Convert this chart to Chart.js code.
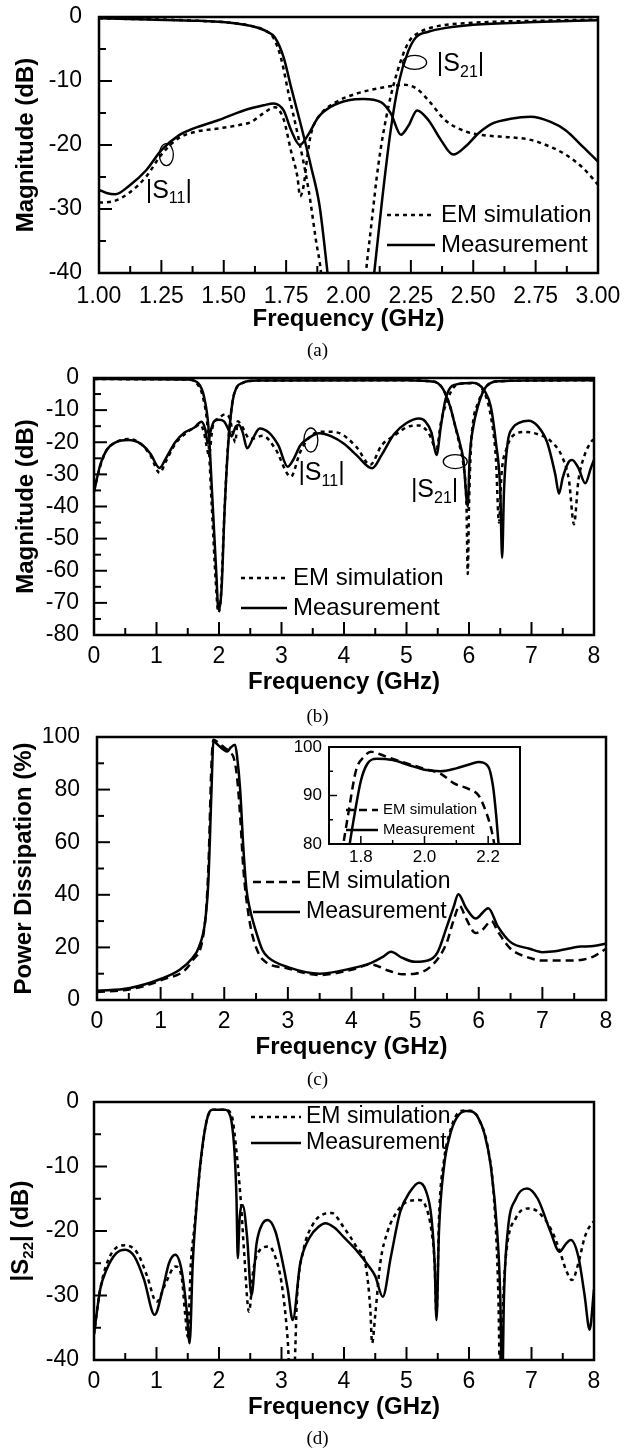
<!DOCTYPE html>
<html>
<head>
<meta charset="utf-8">
<script src="https://cdn.jsdelivr.net/npm/chart.js"></script>
<style>
  body { margin: 0; background: #fff; width: 635px; height: 1449px; position: relative; overflow: hidden; }
  canvas { position: absolute; }
  .cap { position: absolute; left: 0; width: 635px; text-align: center; color: #000;
         font: 19px "Liberation Serif", "Times New Roman", serif; line-height: 20px; }
</style>
</head>
<body>
<canvas id="chartA" width="635" height="340" style="left:0;top:0"></canvas>
<div class="cap" style="top:340px">(a)</div>
<canvas id="chartB" width="635" height="340" style="left:0;top:360px"></canvas>
<div class="cap" style="top:706px">(b)</div>
<canvas id="chartC" width="635" height="340" style="left:0;top:727px"></canvas>
<canvas id="inset" width="250" height="140" style="left:280px;top:735px"></canvas>
<div class="cap" style="top:1069px">(c)</div>
<canvas id="chartD" width="635" height="335" style="left:0;top:1090px"></canvas>
<div class="cap" style="top:1428px">(d)</div>

<script>
// ---- data ----

// (a) narrow band view, 1-3 GHz
const aXTicks = [1.00, 1.25, 1.50, 1.75, 2.00, 2.25, 2.50, 2.75, 3.00];
const aYTicks = [0, -10, -20, -30, -40];
const aS11MeasX = [1.00,1.03,1.065,1.12,1.19,1.25,1.32,1.38,1.48,1.58,1.66,1.70,1.74,1.77,1.805,1.84,1.88,1.93,2.00,2.06,2.13,2.17,2.21,2.24,2.275,2.32,2.37,2.42,2.47,2.52,2.58,2.65,2.73,2.81,2.87,2.94,3.00];
const aS11MeasY = [-27.0,-27.5,-27.7,-26.4,-23.9,-20.8,-18.5,-17.4,-16.1,-14.6,-13.8,-13.5,-14.6,-17.7,-20.0,-18.3,-15.6,-14.0,-13.0,-12.8,-13.3,-15.1,-18.4,-17.0,-14.6,-16.1,-19.2,-21.5,-20.2,-18.2,-16.6,-15.9,-15.6,-16.4,-17.7,-20.3,-22.6];
const aS11SimX = [1.00,1.057,1.12,1.19,1.25,1.316,1.38,1.48,1.56,1.61,1.657,1.705,1.74,1.77,1.795,1.806,1.82,1.835,1.85,1.884,1.95,2.03,2.127,2.225,2.273,2.32,2.387,2.47,2.55,2.65,2.73,2.81,2.87,2.94,3.00];
const aS11SimY = [-29.0,-28.8,-27.5,-24.9,-21.5,-19.0,-18.0,-17.4,-16.9,-16.4,-15.1,-14.1,-16.0,-21.0,-24.9,-28.0,-26.4,-21.8,-18.2,-15.4,-13.3,-12.0,-11.1,-10.6,-11.2,-13.0,-16.1,-17.9,-18.5,-18.8,-19.2,-20.3,-21.5,-23.6,-26.2];
const aS21MeasX = [1.00,1.20,1.40,1.55,1.62,1.67,1.705,1.74,1.77,1.81,1.85,1.884,1.916,1.93,2.09,2.103,2.135,2.168,2.20,2.24,2.27,2.32,2.39,2.50,2.75,3.00];
const aS21MeasY = [-0.2,-0.4,-0.6,-1.0,-1.5,-2.2,-3.2,-6.3,-11.0,-17.0,-23.4,-29.5,-40,-45,-45,-40,-28.5,-18.0,-10.5,-5.3,-3.2,-2.3,-1.7,-1.2,-0.8,-0.5];
const aS21SimX = [1.00,1.40,1.55,1.62,1.67,1.70,1.73,1.76,1.80,1.84,1.87,1.89,1.90,2.06,2.07,2.09,2.12,2.16,2.20,2.24,2.28,2.35,2.50,2.75,3.00];
const aS21SimY = [-0.2,-0.6,-1.0,-1.5,-2.2,-3.3,-6.5,-12,-19,-27,-35,-40,-45,-45,-40,-33,-23,-14,-8,-4,-2.5,-1.5,-0.9,-0.6,-0.4];

// (b) wide band view, 0-8 GHz
const bXTicks = [0, 1, 2, 3, 4, 5, 6, 7, 8];
const bYTicks = [0, -10, -20, -30, -40, -50, -60, -70, -80];
const bS21MeasX = [0,1.0,1.5,1.67,1.76,1.83,1.89,1.96,1.99,2.04,2.09,2.15,2.22,2.28,2.38,2.6,5.0,5.45,5.55,5.62,5.70,5.78,5.85,5.91,5.98,6.01,6.07,6.14,6.24,6.35,6.5,7.0,8.0];
const bS21MeasY = [-0.3,-0.4,-0.5,-1.7,-5.8,-15,-36,-62,-72,-66,-41,-20,-7,-3,-1.5,-0.8,-0.7,-1.2,-2.5,-4.8,-9,-15,-20,-25.5,-40,-25,-15,-9,-3.7,-1.5,-1,-0.8,-0.7];
const bS21SimX = [0,1.0,1.5,1.65,1.75,1.82,1.88,1.95,1.99,2.03,2.08,2.14,2.21,2.27,2.38,2.6,5.0,5.45,5.55,5.62,5.70,5.78,5.85,5.91,5.96,5.98,6.0,6.03,6.07,6.14,6.24,6.35,6.5,7.0,8.0];
const bS21SimY = [-0.3,-0.4,-0.5,-1.8,-6.5,-16,-38,-64,-73,-68,-45,-22,-8,-3.5,-1.5,-0.8,-0.7,-1.2,-2.5,-4.8,-9,-15,-21,-27,-40,-61,-40,-22,-13,-8,-3.5,-1.5,-1,-0.8,-0.7];
const bS11MeasX = [0,0.1,0.2,0.35,0.55,0.75,0.9,1.05,1.15,1.3,1.45,1.6,1.72,1.78,1.82,1.86,1.92,2.0,2.08,2.15,2.2,2.27,2.32,2.38,2.45,2.55,2.65,2.8,2.95,3.1,3.2,3.3,3.45,3.6,3.8,4.0,4.2,4.45,4.6,4.8,5.0,5.2,5.3,5.4,5.48,5.55,5.62,5.7,5.8,5.95,6.05,6.15,6.25,6.35,6.43,6.5,6.53,6.56,6.62,6.7,6.8,6.95,7.1,7.25,7.38,7.44,7.5,7.6,7.65,7.75,7.86,7.95,8.0];
const bS11MeasY = [-35.5,-27,-22.5,-20,-19.3,-20.5,-23.5,-28,-25,-20,-17,-15.5,-13.6,-16,-20.3,-17,-13.5,-13,-13.5,-16,-18.2,-15,-14.6,-17,-21.9,-18.5,-15.7,-17,-21,-27.6,-25,-21,-18.5,-17.2,-18.2,-20.5,-24,-28.1,-24,-17.5,-14,-12.6,-13.5,-17,-24,-15,-7,-3,-2,-1.6,-1.5,-2,-4,-9,-20,-35,-56,-35,-20,-15.5,-14,-13.3,-15,-20,-30,-36,-31,-26,-25.5,-28,-32.8,-28,-25.5];
const bS11SimX = [0,0.1,0.2,0.35,0.55,0.75,0.9,1.05,1.15,1.3,1.45,1.6,1.7,1.76,1.8,1.84,1.9,2.0,2.1,2.17,2.22,2.26,2.3,2.35,2.5,2.7,2.9,3.15,3.3,3.5,3.7,3.9,4.2,4.42,4.6,4.8,5.05,5.2,5.35,5.48,5.55,5.6,5.75,5.9,6.05,6.2,6.35,6.43,6.48,6.52,6.6,6.7,6.9,7.1,7.3,7.5,7.6,7.68,7.75,7.85,7.95,8.0];
const bS11SimY = [-35,-27.5,-22.5,-20,-19,-20.5,-24,-29.5,-26,-20.5,-17.5,-15.5,-14.5,-17,-21,-24,-15,-12.5,-11.3,-12.5,-17,-20,-13.5,-14.5,-19,-18,-22,-30.7,-23,-17.5,-16.7,-17,-21.5,-27,-21,-18,-15,-14.8,-17,-22,-14,-10,-3,-1.7,-1.6,-3,-12,-25,-45,-30,-22,-18,-16.8,-17.5,-19.5,-25,-32,-45.5,-32,-24,-20,-19];

// (c) power dissipation in percent
const cXTicks = [0, 1, 2, 3, 4, 5, 6, 7, 8];
const cYTicks = [0, 20, 40, 60, 80, 100];
const cMeasX = [0,0.5,1.0,1.3,1.5,1.6,1.7,1.75,1.8,1.83,1.9,2.0,2.05,2.1,2.17,2.2,2.25,2.3,2.35,2.4,2.5,2.6,2.7,3.0,3.5,4.0,4.3,4.5,4.62,4.8,5.0,5.2,5.35,5.5,5.6,5.68,5.8,5.95,6.15,6.3,6.5,6.8,7.0,7.2,7.4,7.6,7.8,8.0];
const cMeasY = [3.5,4.5,8,11.5,16,20,30,45,80,98.4,97,95,94.5,96,97.1,93,80,58,42,35,26,19,16,12.5,10,12,14,16.5,18.3,16,14.5,15,18,28,35,40.2,35,31,34.9,28,22,19.5,18.2,18.5,19.5,20.3,20.5,21.5];
const cSimX = [0,0.5,1.0,1.5,1.7,1.75,1.8,1.83,1.9,2.0,2.1,2.15,2.2,2.25,2.3,2.35,2.42,2.5,2.6,3.0,3.5,4.0,4.3,4.6,4.8,5.0,5.3,5.5,5.6,5.7,5.8,5.95,6.05,6.2,6.3,6.5,6.8,7.0,7.5,7.8,8.0];
const cSimY = [3,4,7.5,15,30,50,90,99,98,96,94,92,85,70,50,38,27,20,15.5,12,9.5,11.5,13.5,11,9.8,10,14,22,30,35.8,31,25.5,26.5,30,26,19.5,16,15,15,16.5,19.5];

// (c) inset, zoom on the stopband
const insXTicks = [1.8, 2.0, 2.2];
const insYTicks = [80, 90, 100];
const insMeasX = [1.76,1.78,1.80,1.82,1.85,1.90,1.95,2.00,2.05,2.10,2.15,2.17,2.20,2.215,2.225,2.235];
const insMeasY = [78,86,93,96.5,97.6,97.3,96.3,95.3,95.0,95.6,96.6,96.9,96,92,86,78];
const insSimX = [1.74,1.76,1.785,1.81,1.832,1.88,1.95,2.00,2.05,2.093,2.14,2.17,2.195,2.21,2.225];
const insSimY = [78,86,95.2,98,99,98,96.5,95.5,94.5,92.5,91.3,90,86.3,83,78];

// (d) output reflection
const dXTicks = [0, 1, 2, 3, 4, 5, 6, 7, 8];
const dYTicks = [0, -10, -20, -30, -40];
const dMeasX = [0,0.1,0.2,0.35,0.5,0.65,0.8,0.97,1.1,1.2,1.3,1.4,1.48,1.53,1.58,1.65,1.72,1.8,1.85,1.9,2.1,2.15,2.2,2.25,2.28,2.3,2.33,2.38,2.45,2.52,2.6,2.7,2.78,2.9,3.0,3.1,3.18,3.3,3.45,3.6,3.7,3.85,4.0,4.2,4.4,4.5,4.62,4.75,4.9,5.05,5.2,5.3,5.4,5.45,5.48,5.52,5.6,5.7,5.8,5.95,6.05,6.15,6.25,6.35,6.45,6.5,6.53,6.56,6.62,6.75,6.93,7.1,7.3,7.45,7.55,7.63,7.75,7.85,7.93,8.0];
const dMeasY = [-36,-29,-26,-23.5,-22.9,-24,-27.5,-33,-29,-25,-23.7,-26,-32,-37.4,-25,-15,-8,-3,-1.5,-1.2,-1.2,-1.5,-3,-8,-15,-24.2,-18,-16,-21,-30,-22,-18.8,-18.3,-20,-24,-29,-33.8,-25,-21,-19.3,-18.8,-19.5,-21,-23,-25.5,-27,-30.2,-24,-17,-14,-12.5,-13.5,-18,-25,-33.8,-20,-10,-5,-2.5,-1.4,-1.5,-2.5,-5,-10,-20,-30,-45,-30,-20,-15,-13.4,-15,-20,-23.2,-22,-21.4,-24,-30,-35.3,-29];
const dSimX = [0,0.1,0.25,0.5,0.7,0.85,1.0,1.15,1.3,1.4,1.46,1.5,1.55,1.6,1.7,1.8,1.9,2.1,2.2,2.25,2.35,2.4,2.48,2.55,2.65,2.8,2.9,3.0,3.1,3.13,3.2,3.25,3.35,3.5,3.7,3.8,4.0,4.2,4.35,4.42,4.45,4.5,4.58,4.7,4.85,5.0,5.2,5.3,5.4,5.45,5.48,5.52,5.6,5.7,5.8,5.95,6.05,6.15,6.3,6.4,6.47,6.5,6.55,6.6,6.75,6.95,7.1,7.3,7.45,7.55,7.65,7.75,7.85,7.95,8.0];
const dSimY = [-36,-29,-24,-22.2,-23.5,-27,-31,-28,-25.5,-27,-33,-36.4,-25,-20,-10,-3,-1.2,-1.2,-2,-5,-15.5,-23,-32.5,-26,-23,-22.4,-24,-28,-37,-42,-42,-30,-23,-19,-17.3,-17.2,-19.5,-22.5,-25.5,-32,-37.4,-33,-25,-20,-17,-15.5,-15.2,-16,-20,-25,-33,-18,-9,-4.5,-2,-1.3,-1.4,-2.5,-7,-15,-30,-45,-30,-23,-18,-16.5,-17,-19.5,-23,-26,-27.6,-25,-21,-19,-18.5];

// ---- drawing ----
const FONT = '"Liberation Sans", Arial, Helvetica, sans-serif';
Chart.defaults.font.family = FONT;
Chart.defaults.color = '#000';

const DOT = [4, 4];
const DASH = [8, 5];
const SOLID = [];

function pts(xs, ys) {
  return xs.map((x, i) => ({ x: x, y: ys[i] }));
}

function curve(label, xs, ys, dash, width) {
  return {
    label: label,
    data: pts(xs, ys),
    borderColor: '#000',
    borderWidth: width || 2.5,
    borderDash: dash,
    pointRadius: 0,
    fill: false,
    cubicInterpolationMode: 'monotone'
  };
}

// per-canvas decoration: tick steps, legend and the little labels
const decor = {
  chartA: {
    xMajor: 0.25, xMinor: 0.125, yMajor: 10, yMinor: 5, major: 13, minor: 7, tickW: 2, frameW: 2.5,
    legend: { x0: 387, x1: 435, tx: 441, size: 24, items: [['EM simulation', DOT, 215], ['Measurement', SOLID, 245]] },
    ellipses: [[1.27, -21.5, 7, 11], [2.265, -7.1, 12, 7]],
    notes: [[1.187, -27.2, '11'], [2.354, -7.4, '21']]
  },
  chartB: {
    xMajor: 1, xMinor: 0.5, yMajor: 10, yMinor: 5, major: 13, minor: 7, tickW: 2, frameW: 2.5,
    legend: { x0: 241, x1: 287, tx: 293, size: 24, items: [['EM simulation', DOT, 218], ['Measurement', SOLID, 248]] },
    ellipses: [[3.47, -19.3, 7, 12], [5.78, -26, 12, 7]],
    notes: [[3.27, -29.7, '11'], [5.07, -34.9, '21']]
  },
  chartC: {
    xMajor: 1, xMinor: 0.5, yMajor: 20, yMinor: 10, major: 13, minor: 7, tickW: 2, frameW: 2.5,
    legend: { x0: 253, x1: 300, tx: 306, size: 23, items: [['EM simulation', DASH, 155], ['Measurement', SOLID, 185]] },
    ellipses: [], notes: []
  },
  inset: {
    xMajor: 0.2, xMinor: 0.1, yMajor: 10, yMinor: 5, major: 8, minor: 4, tickW: 1.5, frameW: 2,
    legend: { x0: 66, x1: 98, tx: 103, size: 15, items: [['EM simulation', DASH, 75], ['Measurement', SOLID, 95]] },
    ellipses: [], notes: []
  },
  chartD: {
    xMajor: 1, xMinor: 0.5, yMajor: 10, yMinor: 5, major: 13, minor: 7, tickW: 2, frameW: 2.5,
    legend: { x0: 251, x1: 301, tx: 306, size: 23, items: [['EM simulation', DOT, 27], ['Measurement', SOLID, 53]] },
    ellipses: [], notes: [],
    yTitle: { x: 21, size: 24 }
  }
};

function subText(ctx, x, y, parts, size, weight) {
  let cx = x;
  parts.forEach(p => {
    const sub = p[1];
    ctx.font = (weight || '') + ' ' + (sub ? Math.round(size * 0.62) : size) + 'px ' + FONT;
    ctx.fillText(p[0], cx, sub ? y + size * 0.32 : y);
    cx += ctx.measureText(p[0]).width;
  });
  return cx - x;
}

const frame = {
  id: 'frame',
  afterDatasetsDraw(chart) {
    const d = decor[chart.canvas.id];
    const ctx = chart.ctx;
    const a = chart.chartArea;
    const x = chart.scales.x, y = chart.scales.y;
    ctx.save();
    ctx.strokeStyle = '#000';
    ctx.fillStyle = '#000';
    ctx.setLineDash([]);

    // inward ticks on the bottom and left axes
    ctx.lineWidth = d.tickW;
    const nx = Math.round((x.max - x.min) / d.xMinor);
    for (let i = 0; i <= nx; i++) {
      const v = x.min + i * d.xMinor;
      const r = v / d.xMajor;
      const len = Math.abs(r - Math.round(r)) < 1e-6 ? d.major : d.minor;
      const px = x.getPixelForValue(v);
      ctx.beginPath(); ctx.moveTo(px, a.bottom); ctx.lineTo(px, a.bottom - len); ctx.stroke();
    }
    const ny = Math.round((y.max - y.min) / d.yMinor);
    for (let i = 0; i <= ny; i++) {
      const v = y.min + i * d.yMinor;
      const r = v / d.yMajor;
      const len = Math.abs(r - Math.round(r)) < 1e-6 ? d.major : d.minor;
      const py = y.getPixelForValue(v);
      ctx.beginPath(); ctx.moveTo(a.left, py); ctx.lineTo(a.left + len, py); ctx.stroke();
    }
    ctx.lineWidth = d.frameW;
    ctx.strokeRect(a.left, a.top, a.right - a.left, a.bottom - a.top);

    // legend
    const lg = d.legend;
    ctx.textBaseline = 'middle';
    ctx.textAlign = 'left';
    lg.items.forEach(it => {
      ctx.lineWidth = 2.5;
      ctx.setLineDash(it[1]);
      ctx.beginPath(); ctx.moveTo(lg.x0, it[2]); ctx.lineTo(lg.x1, it[2]); ctx.stroke();
      ctx.setLineDash([]);
      ctx.font = lg.size + 'px ' + FONT;
      ctx.fillText(it[0], lg.tx, it[2]);
    });

    // ellipses and |Sxx| labels
    ctx.lineWidth = 1.3;
    d.ellipses.forEach(e => {
      ctx.beginPath();
      ctx.ellipse(x.getPixelForValue(e[0]), y.getPixelForValue(e[1]), e[2], e[3], 0, 0, Math.PI * 2);
      ctx.stroke();
    });
    d.notes.forEach(n => {
      subText(ctx, x.getPixelForValue(n[0]), y.getPixelForValue(n[1]), [['|S', false], [n[2], true], ['|', false]], 25);
    });

    // y title with a subscript
    if (d.yTitle) {
      const parts = [['|S', false], ['22', true], ['| (dB)', false]];
      ctx.save();
      ctx.translate(d.yTitle.x, (a.top + a.bottom) / 2);
      ctx.rotate(-Math.PI / 2);
      const w = subText(ctx, 0, -1000, parts, d.yTitle.size, 'bold');
      subText(ctx, -w / 2, 0, parts, d.yTitle.size, 'bold');
      ctx.restore();
    }
    ctx.restore();
  }
};

function xAxis(c) {
  return {
    type: 'linear', min: c.min, max: c.max,
    grid: { display: false, drawTicks: false }, border: { display: false },
    afterBuildTicks: s => { s.ticks = c.ticks.map(v => ({ value: v })); },
    afterFit: s => { s.height = c.height; s.paddingLeft = 0; s.paddingRight = 0; },
    ticks: { padding: c.pad, autoSkip: false, maxRotation: 0, color: '#000',
             font: { size: c.font, lineHeight: 1.2 },
             callback: v => c.digits === undefined ? String(v) : Number(v).toFixed(c.digits) },
    title: c.title
      ? { display: true, text: c.title, color: '#000', font: { size: 24, weight: 'bold', lineHeight: 1.2 }, padding: { top: 0, bottom: c.titlePad } }
      : { display: false }
  };
}

function yAxis(c) {
  return {
    type: 'linear', min: c.min, max: c.max,
    grid: { display: false, drawTicks: false }, border: { display: false },
    afterBuildTicks: s => { s.ticks = c.ticks.map(v => ({ value: v })); },
    afterFit: s => { s.width = c.width; s.paddingTop = 0; s.paddingBottom = 0; },
    ticks: { padding: c.pad, autoSkip: false, color: '#000',
             font: { size: c.font, lineHeight: 1.2 },
             callback: v => String(v) },
    title: c.title
      ? { display: true, text: c.title, color: '#000', font: { size: 24, weight: 'bold', lineHeight: 1.2 }, padding: { top: c.titlePad, bottom: 0 } }
      : { display: false }
  };
}

function makeChart(id, datasets, xs, ys, padding) {
  return new Chart(document.getElementById(id), {
    type: 'line',
    data: { datasets: datasets },
    options: {
      responsive: false,
      animation: false,
      devicePixelRatio: 1,
      layout: { padding: padding },
      plugins: { legend: { display: false }, tooltip: { enabled: false } },
      scales: { x: xs, y: ys }
    },
    plugins: [frame]
  });
}

makeChart('chartA', [
  curve('EM simulation', aS21SimX, aS21SimY, DOT),
  curve('EM simulation', aS11SimX, aS11SimY, DOT),
  curve('Measurement', aS21MeasX, aS21MeasY, SOLID),
  curve('Measurement', aS11MeasX, aS11MeasY, SOLID)
],
  xAxis({ min: 1, max: 3, ticks: aXTicks, digits: 2, height: 67, pad: 10, font: 23, title: 'Frequency (GHz)', titlePad: 6 }),
  yAxis({ min: -40, max: 0, ticks: aYTicks, width: 99, pad: 17, font: 23, title: 'Magnitude (dB)', titlePad: 12 }),
  { left: 0, top: 17, right: 37, bottom: 0 });

makeChart('chartB', [
  curve('EM simulation', bS21SimX, bS21SimY, DOT),
  curve('EM simulation', bS11SimX, bS11SimY, DOT),
  curve('Measurement', bS21MeasX, bS21MeasY, SOLID),
  curve('Measurement', bS11MeasX, bS11MeasY, SOLID)
],
  xAxis({ min: 0, max: 8, ticks: bXTicks, height: 65, pad: 8, font: 23, title: 'Frequency (GHz)', titlePad: 3 }),
  yAxis({ min: -80, max: 0, ticks: bYTicks, width: 94, pad: 15, font: 23, title: 'Magnitude (dB)', titlePad: 12 }),
  { left: 0, top: 18, right: 41, bottom: 0 });

makeChart('chartC', [
  curve('EM simulation', cSimX, cSimY, DASH),
  curve('Measurement', cMeasX, cMeasY, SOLID)
],
  xAxis({ min: 0, max: 8, ticks: cXTicks, height: 67, pad: 8, font: 23, title: 'Frequency (GHz)', titlePad: 5 }),
  yAxis({ min: 0, max: 100, ticks: cYTicks, width: 97, pad: 17, font: 23, title: 'Power Dissipation (%)', titlePad: 10 }),
  { left: 0, top: 10, right: 29, bottom: 0 });

makeChart('inset', [
  curve('EM simulation', insSimX, insSimY, DASH),
  curve('Measurement', insMeasX, insMeasY, SOLID)
],
  xAxis({ min: 1.7, max: 2.3, ticks: insXTicks, digits: 1, height: 31, pad: 3, font: 17 }),
  yAxis({ min: 80, max: 100, ticks: insYTicks, width: 49, pad: 7, font: 17 }),
  { left: 0, top: 12, right: 10, bottom: 0 });

makeChart('chartD', [
  curve('EM simulation', dSimX, dSimY, DOT),
  curve('Measurement', dMeasX, dMeasY, SOLID)
],
  xAxis({ min: 0, max: 8, ticks: dXTicks, height: 65, pad: 8, font: 23, title: 'Frequency (GHz)', titlePad: 3 }),
  yAxis({ min: -40, max: 0, ticks: dYTicks, width: 94, pad: 15, font: 23 }),
  { left: 0, top: 12, right: 41, bottom: 0 });
</script>
</body>
</html>
